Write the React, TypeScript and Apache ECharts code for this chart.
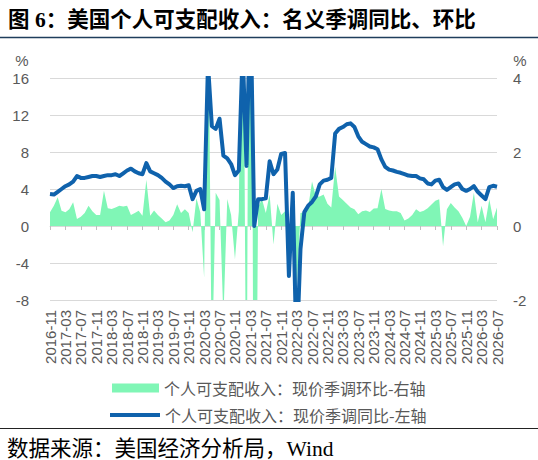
import { useEffect, useRef } from "react";
import * as echarts from "echarts";

const TITLE = "图 6：美国个人可支配收入：名义季调同比、环比";
const SOURCE = "数据来源：美国经济分析局，Wind";
const MOM_NAME = "个人可支配收入：现价季调环比-右轴";
const YOY_NAME = "个人可支配收入：现价季调同比-左轴";

const GREEN = "#80f6b6";
const BLUE = "#0f62ac";

// monthly categories, 2016-11 .. 2026-07
const months: string[] = [];
for (let y = 2016, m = 11; y * 100 + m <= 202607; ) {
  months.push(`${y}-${String(m).padStart(2, "0")}`);
  m++;
  if (m > 12) {
    m = 1;
    y++;
  }
}

// 同比 (left axis, %)
const yoy = [
  3.45, 3.4, 3.7, 4.0, 4.3, 4.5, 4.8, 5.4, 5.2, 5.2,
  5.3, 5.4, 5.4, 5.3, 5.4, 5.5, 5.5, 5.6, 5.4, 5.7,
  6.0, 6.2, 5.9, 5.7, 5.6, 6.8, 5.9, 5.7, 5.5, 5.2,
  4.8, 4.5, 4.1, 4.3, 4.35, 4.3, 4.4, 2.9, 3.8, 4.0,
  1.8, 17.5, 10.8, 10.5, 11.6, 7.6, 7.3, 6.7, 5.5, 6.0,
  19, 6.5, 25, 0.0, 2.9, 2.9, 3.0, 7.0, 5.6, 6.1,
  7.8, 7.9, -5.4, 3.6, -14, -2.5, 1.5, 2.2, 2.6, 3.2,
  4.5, 4.9, 5.0, 5.2, 10.0, 10.5, 10.7, 11.0, 11.1, 10.7,
  9.7, 9.1, 8.85, 8.6, 8.5, 8.3, 7.2, 6.4, 6.1, 6.0,
  5.85, 5.75, 5.6, 5.45, 5.4, 5.4, 5.15, 5.05, 4.6, 4.5,
  4.9, 5.0, 4.2, 3.9, 4.2, 4.5, 4.6, 4.0, 3.8, 4.0,
  4.3, 3.7, 3.3, 2.9, 4.2, 4.35, 4.25,
];

// 环比 (right axis, %)
const mom = [
  0.37, 0.55, 0.78, 0.41, 0.37, 0.45, 0.64, 0.19, 0.25, 0.35,
  0.55, 0.4, 0.3, 0.3, 0.95, 0.48, 0.46, 0.5, 0.55, 0.53,
  0.55, 0.3, 0.35, 0.41, 0.28, 1.25, 0.28, 0.42, 0.3, 0.2,
  0.1, 0.15, 0.3, 0.59, 0.35, 0.45, 0.35, -0.17, 0.75, 0.37,
  -1.4, 7, -4, 0.9, 0.7, -2.5, 0.73, 0.3, -0.9, 0.4,
  10, -7, 20, -13, 0.5, 0.73, 0.35, 0.85, -0.5, 0.6,
  0.3, 0.4, -1.35, 0.55, -1.8, 0.35, 0.37, 0.5, 1.2, 0.8,
  0.8, 0.85, 0.6, 0.5, 1.6, 0.8, 0.7, 0.6, 0.5, 0.45,
  0.32, 0.4, 0.42, 0.38, 0.47, 0.48, 1.0, 0.46, 0.42, 0.4,
  0.4, 0.35, 0.15, 0.2, 0.3, 0.45, 0.38, 0.41, 0.48, 0.58,
  0.68, 0.72, -0.55, 0.45, 0.62, 0.5, 0.4, 0.22, 0.0, 0.25,
  0.9, 0.1, 0.55, 0.1, 0.72, 0.18, 0.5,
];

const leftTicks = { min: -8, max: 16, interval: 4 };
const rightTicks = { min: -2, max: 4, interval: 2 };

const CJK = '"Noto Sans CJK SC", sans-serif';
const SERIF = '"Liberation Serif", "Noto Sans CJK SC", serif';
const LABEL_FONT = '"Liberation Sans", sans-serif';

export default function App() {
  const chartRef = useRef<HTMLDivElement>(null);

  useEffect(() => {
    if (!chartRef.current) return;
    const chart = echarts.init(chartRef.current, null, { renderer: "svg" });
    const legendText = { fontSize: 16, color: "#595959", fontFamily: CJK };

    chart.setOption({
      animation: false,
      grid: { left: 50, right: 41, top: 78, bottom: 160 },
      graphic: [
        {
          type: "text",
          x: 8,
          y: 20,
          style: {
            text: TITLE,
            fontSize: 21.5,
            fontWeight: "bold",
            fontFamily: SERIF,
            fill: "#000",
            verticalAlign: "middle",
          },
        },
        {
          type: "line",
          shape: { x1: 0, y1: 37.5, x2: 538, y2: 37.5 },
          style: { stroke: "#1f3d5c", lineWidth: 1.5 },
        },
        {
          type: "text",
          x: 22,
          y: 60,
          style: { text: "%", fontSize: 15, fill: "#595959", fontFamily: LABEL_FONT, align: "center", verticalAlign: "middle" },
        },
        {
          type: "text",
          x: 520,
          y: 60,
          style: { text: "%", fontSize: 15, fill: "#595959", fontFamily: LABEL_FONT, align: "center", verticalAlign: "middle" },
        },
        {
          type: "line",
          shape: { x1: 0, y1: 428.5, x2: 538, y2: 428.5 },
          style: { stroke: "#222", lineWidth: 1 },
        },
        {
          type: "text",
          x: 7,
          y: 449,
          style: {
            text: SOURCE,
            fontSize: 21.5,
            fontFamily: SERIF,
            fill: "#000",
            verticalAlign: "middle",
          },
        },
      ],
      legend: [
        {
          data: [MOM_NAME],
          left: 107,
          top: 375,
          icon: "rect",
          itemWidth: 47,
          itemHeight: 9,
          itemGap: 0,
          textStyle: legendText,
          itemStyle: { borderWidth: 0 },
        },
        {
          data: [YOY_NAME],
          left: 105,
          top: 402,
          icon: "rect",
          itemWidth: 50,
          itemHeight: 4,
          itemGap: 0,
          textStyle: legendText,
          itemStyle: { borderWidth: 0 },
        },
      ],
      xAxis: [
        {
          type: "category",
          data: months,
          boundaryGap: false,
          axisLine: { show: false, onZero: false },
          axisTick: { show: false },
          axisLabel: {
            interval: 3,
            rotate: 90,
            fontSize: 15,
            color: "#595959",
            fontFamily: LABEL_FONT,
            margin: 10,
          },
          splitLine: { show: false },
        },
        {
          type: "category",
          data: months,
          boundaryGap: false,
          position: "bottom",
          axisLine: { onZero: true, lineStyle: { color: "#d9d9d9" } },
          axisTick: { show: true, interval: 3, length: 4, lineStyle: { color: "#bfbfbf" } },
          axisLabel: { show: false },
          splitLine: { show: false },
        },
      ],
      yAxis: [
        {
          type: "value",
          position: "left",
          ...leftTicks,
          axisLine: { show: false },
          axisTick: { show: false },
          axisLabel: { fontSize: 15, color: "#595959", fontFamily: LABEL_FONT, margin: 21 },
          splitLine: { lineStyle: { color: "#d9d9d9" } },
        },
        {
          type: "value",
          position: "right",
          ...rightTicks,
          axisLine: { show: false },
          axisTick: { show: false },
          axisLabel: { fontSize: 15, color: "#595959", fontFamily: LABEL_FONT, margin: 16 },
          splitLine: { show: false },
        },
      ],
      series: [
        {
          name: MOM_NAME,
          type: "line",
          xAxisIndex: 0,
          yAxisIndex: 1,
          data: mom,
          symbol: "none",
          color: GREEN,
          itemStyle: { color: GREEN },
          lineStyle: { width: 0 },
          areaStyle: { color: GREEN, opacity: 1 },
        },
        {
          name: YOY_NAME,
          type: "line",
          xAxisIndex: 0,
          yAxisIndex: 0,
          data: yoy,
          symbol: "none",
          color: BLUE,
          itemStyle: { color: BLUE },
          lineStyle: { width: 4, color: BLUE, join: "round" },
        },
      ],
    });

    return () => chart.dispose();
  }, []);

  return (
    <div
      ref={chartRef}
      style={{ position: "absolute", left: 0, top: 0, width: 538, height: 460 }}
    />
  );
}
